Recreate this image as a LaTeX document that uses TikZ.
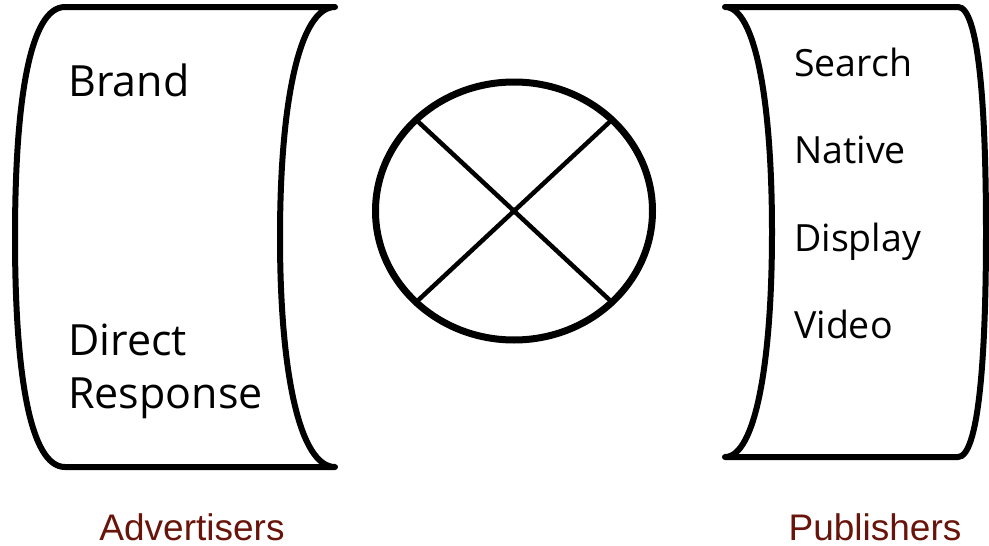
\documentclass[tikz,border=0pt]{standalone}
\usepackage{fontspec}
\setmainfont{Open Sans}
\newfontfamily\labelfont{Liberation Sans}
\usetikzlibrary{shapes.geometric,positioning}
\definecolor{labelred}{RGB}{104,20,10}

\begin{document}
\begin{tikzpicture}[x=1pt,y=-1pt,
    store/.style={line width=6pt, line join=round, line cap=round},
    bigitem/.style={anchor=base west, inner sep=0pt, font=\fontsize{43}{50}\selectfont},
    item/.style={anchor=base west, inner sep=0pt, font=\fontsize{37.5}{46}\selectfont},
    group/.style={anchor=base, inner sep=0pt, text=labelred, font=\labelfont\fontsize{37}{44}\selectfont}]
  \useasboundingbox (0,0) rectangle (989,546);
  % advertisers
  \draw[store] (65,7) -- (335,7) .. controls (300,7) and (280,100) .. (280,237)
    .. controls (280,374) and (300,467) .. (335,467) -- (65,467)
    .. controls (30,467) and (15,374) .. (15,237)
    .. controls (15,100) and (30,7) .. cycle;
  \node[bigitem] (brand) at (68,96) {Brand};
  \node[bigitem] (direct) at (68,355) {Direct};
  \node[bigitem] (response) at (68,408) {Response};
  % publishers
  \draw[store] (725,7) -- (958,7) .. controls (978,7) and (986,100) .. (986,232)
    .. controls (986,364) and (978,457) .. (958,457) -- (725,457)
    .. controls (755,457) and (772,364) .. (772,232)
    .. controls (772,100) and (755,7) .. cycle;
  \foreach \name [count=\i] in {Search,Native,Display,Video}
    \node[item] (pub\i) at (794,{76+87.5*(\i-1)}) {\name};
  % exchange
  \node[draw, ellipse, line width=7pt, minimum width=277pt, minimum height=258pt,
    inner sep=0pt, outer sep=0pt] (exchange) at (514,211) {};
  \draw[line width=4.5pt] (exchange.north west) -- (exchange.south east);
  \draw[line width=4.5pt] (exchange.north east) -- (exchange.south west);
  % labels
  \node[group] (advertisers) at (192,540) {Advertisers};
  \node[group] (publishers) at (875,540) {Publishers};
\end{tikzpicture}
\end{document}
